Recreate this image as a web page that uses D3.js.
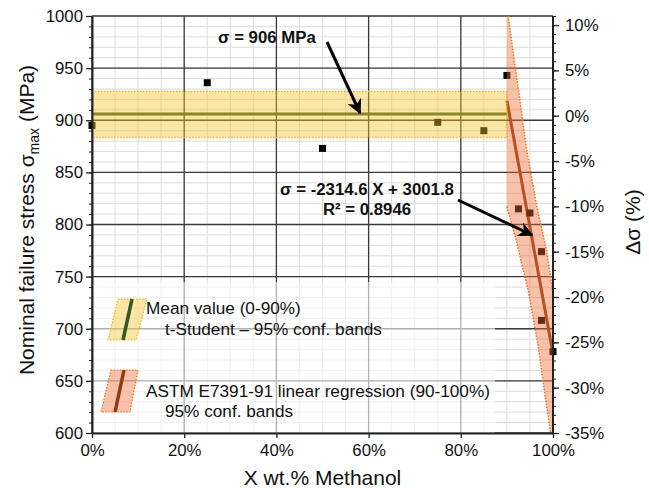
<!DOCTYPE html>
<html>
<head>
<meta charset="utf-8">
<script src="https://cdn.jsdelivr.net/npm/d3@7"></script>
<style>
  body { margin: 0; background: #fff; }
  svg { display: block; font-family: "Liberation Sans", Arial, sans-serif; }
</style>
</head>
<body>
<script>
// measured points (X wt.% methanol, sigma max in MPa)
const xPct = [0, 25, 50, 75, 85, 90, 92.5, 95, 97.5, 97.5, 100];
const sigma = [895, 936, 873, 898, 890, 943, 815, 811, 774, 708, 678];

// mean value 0-90% with t-Student band
const meanRange = [0, 90];
const meanVal = 906;
const meanBand = [883.5, 927.5];

// linear regression 90-100% and its 95% conf. bands
const regX = [90, 100];
const regY = [919, 676];
const ciUpX = [90.3, 91.6, 92.1, 94.3, 96.5, 98.6, 99.9];
const ciUp = [1000, 957, 942, 871.5, 817, 775.5, 737];
const ciLoX = [90, 92, 94.6, 96.8, 98.3, 99.5, 100];
const ciLo = [817, 785, 737, 683, 635, 600, 585];

const yTicks = [600, 650, 700, 750, 800, 850, 900, 950, 1000];
const xTicks = [0, 20, 40, 60, 80, 100];
const rTicks = [-35, -30, -25, -20, -15, -10, -5, 0, 5, 10];

const width = 649, height = 488;
const margin = {left: 92, right: 96, top: 16, bottom: 55};

const x = d3.scaleLinear().domain([0, 100]).range([margin.left, width - margin.right]);
const y = d3.scaleLinear().domain([600, 1000]).range([height - margin.bottom, margin.top]);
const yR = d3.scaleLinear().domain([-35, 11.0]).range([height - margin.bottom, margin.top]);

const svg = d3.select("body").append("svg")
    .attr("width", width)
    .attr("height", height);

svg.append("clipPath").attr("id", "plot")
  .append("rect")
    .attr("x", x(0)).attr("y", y(1000))
    .attr("width", x(100) - x(0)).attr("height", y(600) - y(1000));

// grid
const grid = svg.append("g");
grid.selectAll(".vmin").data(d3.range(0, 101, 5))
  .join("line")
    .attr("x1", d => x(d)).attr("x2", d => x(d))
    .attr("y1", y(600)).attr("y2", y(1000))
    .attr("stroke", "#dcdcdc").attr("stroke-width", 1);
grid.selectAll(".hmin").data(d3.range(600, 1001, 10))
  .join("line")
    .attr("x1", x(0)).attr("x2", x(100))
    .attr("y1", d => y(d)).attr("y2", d => y(d))
    .attr("stroke", "#dcdcdc").attr("stroke-width", 1);
grid.selectAll(".vmaj").data(xTicks)
  .join("line")
    .attr("x1", d => x(d)).attr("x2", d => x(d))
    .attr("y1", y(600)).attr("y2", y(1000))
    .attr("stroke", "#3a3a3a").attr("stroke-width", 1.3);
grid.selectAll(".hmaj").data(yTicks)
  .join("line")
    .attr("x1", x(0)).attr("x2", x(100))
    .attr("y1", d => y(d)).attr("y2", d => y(d))
    .attr("stroke", "#3a3a3a").attr("stroke-width", 1.3);

// legend box (semi-opaque, washes out the grid under it)
svg.append("rect")
    .attr("x", x(0)).attr("y", 282)
    .attr("width", 495 - x(0)).attr("height", y(600) - 282)
    .attr("fill", "#fff").attr("opacity", 0.6);

const plot = svg.append("g").attr("clip-path", "url(#plot)");

// mean and regression lines
plot.append("line")
    .attr("x1", x(meanRange[0])).attr("x2", x(meanRange[1]))
    .attr("y1", y(meanVal)).attr("y2", y(meanVal))
    .attr("stroke", "#3b5b22").attr("stroke-width", 3);
plot.append("line")
    .attr("x1", x(regX[0])).attr("x2", x(regX[1]))
    .attr("y1", y(regY[0])).attr("y2", y(regY[1]))
    .attr("stroke", "#8e3c14").attr("stroke-width", 3);

// points (not clipped, the end ones sit on the axes)
svg.append("g").selectAll(".pt").data(xPct)
  .join("rect")
    .attr("x", (d, i) => x(d) - 3.5)
    .attr("y", (d, i) => y(sigma[i]) - 3.5)
    .attr("width", 7).attr("height", 7)
    .attr("fill", "#000");

// bands over everything, semi transparent
const bands = svg.append("g").attr("clip-path", "url(#plot)");
bands.append("rect")
    .attr("x", x(meanRange[0])).attr("y", y(meanBand[1]))
    .attr("width", x(meanRange[1]) - x(meanRange[0]))
    .attr("height", y(meanBand[0]) - y(meanBand[1]))
    .attr("fill", "rgb(247,195,40)").attr("opacity", 0.42);
bands.append("path")
    .attr("d", d3.line()([[x(meanRange[0]), y(meanBand[1])], [x(meanRange[1]), y(meanBand[1])],
                          [x(meanRange[1]), y(meanBand[0])], [x(meanRange[0]), y(meanBand[0])]]))
    .attr("fill", "none").attr("stroke", "#f4b41a").attr("stroke-width", 1.5)
    .attr("stroke-dasharray", "1.5,1.5");

const upPts = ciUpX.map((d, i) => [x(d), y(ciUp[i])]);
const loPts = ciLoX.map((d, i) => [x(d), y(ciLo[i])]);
const bandPoly = [[x(90), y(1000)]].concat(upPts, [[x(100), y(ciUp[ciUp.length - 1])], [x(100), y(ciLo[ciLo.length - 1])]], loPts.slice().reverse());
bands.append("path")
    .attr("d", d3.line()(bandPoly) + "Z")
    .attr("fill", "rgb(236,110,50)").attr("opacity", 0.42);
bands.append("path")
    .attr("d", d3.line()(upPts))
    .attr("fill", "none").attr("stroke", "#f07020").attr("stroke-width", 1.5)
    .attr("stroke-dasharray", "1.5,1.5");
bands.append("path")
    .attr("d", d3.line()(loPts))
    .attr("fill", "none").attr("stroke", "#f07020").attr("stroke-width", 1.5)
    .attr("stroke-dasharray", "1.5,1.5");

// legend
function legendPatch(pts, fill, edge, line, lineColor) {
  const g = svg.append("g");
  g.append("path").attr("d", d3.line()(pts) + "Z")
    .attr("fill", fill).attr("opacity", 0.42);
  g.append("path").attr("d", d3.line()(pts) + "Z")
    .attr("fill", "none").attr("stroke", edge).attr("stroke-width", 1.2)
    .attr("stroke-dasharray", "1.5,1.5");
  g.append("line")
    .attr("x1", line[0][0]).attr("y1", line[0][1])
    .attr("x2", line[1][0]).attr("y2", line[1][1])
    .attr("stroke", lineColor).attr("stroke-width", 3.5);
}
legendPatch([[118, 299], [147, 299], [136, 340], [108, 340]], "rgb(247,195,40)", "#f4b41a",
  [[132, 299], [123, 340]], "#2f5a22");
legendPatch([[111, 370], [138, 370], [130, 412], [101, 412]], "rgb(236,110,50)", "#f07020",
  [[124, 370], [115, 412]], "#8e3c14");

const legText = svg.append("g").attr("font-size", 17.2).attr("fill", "#111");
legText.append("text").attr("x", 146).attr("y", 314).text("Mean value (0-90%)");
legText.append("text").attr("x", 165).attr("y", 335).text("t-Student \u2013 95% conf. bands");
legText.append("text").attr("x", 146).attr("y", 397).text("ASTM E7391-91 linear regression (90-100%)");
legText.append("text").attr("x", 165).attr("y", 417).text("95% conf. bands");

// annotations
svg.append("defs").append("marker")
    .attr("id", "head").attr("viewBox", "0 0 10 10")
    .attr("refX", 9).attr("refY", 5)
    .attr("markerWidth", 5.5).attr("markerHeight", 5)
    .attr("orient", "auto")
  .append("path").attr("d", "M0,0L10,5L0,10L3,5Z").attr("fill", "#000");

const ann = svg.append("g").attr("font-weight", "bold").attr("font-size", 16.8).attr("fill", "#111");
ann.append("text").attr("x", 218).attr("y", 43).text("\u03c3 = 906 MPa");
ann.append("text").attr("x", 367).attr("y", 195).attr("text-anchor", "middle").text("\u03c3 = -2314.6 X + 3001.8");
ann.append("text").attr("x", 367).attr("y", 215).attr("text-anchor", "middle").text("R\u00b2 = 0.8946");

svg.append("line")
    .attr("x1", 327).attr("y1", 42).attr("x2", 360).attr("y2", 113)
    .attr("stroke", "#000").attr("stroke-width", 3).attr("marker-end", "url(#head)");
svg.append("line")
    .attr("x1", 458).attr("y1", 200).attr("x2", 532).attr("y2", 235)
    .attr("stroke", "#000").attr("stroke-width", 3).attr("marker-end", "url(#head)");

// axes
function styleAxis(g) {
  g.selectAll(".domain").attr("stroke", "#222").attr("stroke-width", 2);
  g.selectAll(".tick line").attr("stroke", "#222").attr("stroke-width", 1.3);
  g.selectAll("text").attr("font-size", 16.8).attr("fill", "#111")
    .attr("font-family", '"Liberation Sans", Arial, sans-serif');
}

svg.append("g").attr("transform", `translate(${x(0)},0)`)
  .call(d3.axisLeft(y).tickValues(d3.range(600, 1001, 10)).tickSize(3).tickFormat(""))
  .call(g => g.selectAll(".domain").remove())
  .call(g => g.selectAll("line").attr("stroke", "#222"));
svg.append("g").attr("transform", `translate(${x(0)},0)`)
  .call(d3.axisLeft(y).tickValues(yTicks).tickSize(6).tickPadding(3).tickSizeOuter(0).tickFormat(d3.format("d")))
  .call(styleAxis);

svg.append("g").attr("transform", `translate(${x(100)},0)`)
  .call(d3.axisRight(yR).tickValues(d3.range(-35, 12, 1)).tickSize(3).tickFormat(""))
  .call(g => g.selectAll(".domain").remove())
  .call(g => g.selectAll("line").attr("stroke", "#222"));
svg.append("g").attr("transform", `translate(${x(100)},0)`)
  .call(d3.axisRight(yR).tickValues(rTicks).tickSize(6).tickPadding(6).tickSizeOuter(0).tickFormat(d => d + "%"))
  .call(styleAxis)
  .call(g => g.select(".domain").attr("d", `M0,${y(600)}V${y(1000)}`));

svg.append("g").attr("transform", `translate(0,${y(600)})`)
  .call(d3.axisBottom(x).tickValues(xTicks).tickSize(5).tickPadding(6).tickSizeOuter(0).tickFormat(d => d + "%"))
  .call(styleAxis);

// axis titles
const leftTitle = svg.append("text")
    .attr("transform", `translate(34,220) rotate(-90)`)
    .attr("text-anchor", "middle").attr("font-size", 21).attr("fill", "#111");
leftTitle.append("tspan").text("Nominal failure stress \u03c3");
leftTitle.append("tspan").attr("font-size", 14).attr("dy", 5).text("max");
leftTitle.append("tspan").attr("dy", -5).text(" (MPa)");

svg.append("text")
    .attr("transform", `translate(640,222) rotate(-90)`)
    .attr("text-anchor", "middle").attr("font-size", 21).attr("fill", "#111")
    .text("\u0394\u03c3 (%)");

svg.append("text")
    .attr("x", (x(0) + x(100)) / 2).attr("y", 485)
    .attr("text-anchor", "middle").attr("font-size", 21).attr("fill", "#111")
    .text("X wt.% Methanol");
</script>
</body>
</html>
